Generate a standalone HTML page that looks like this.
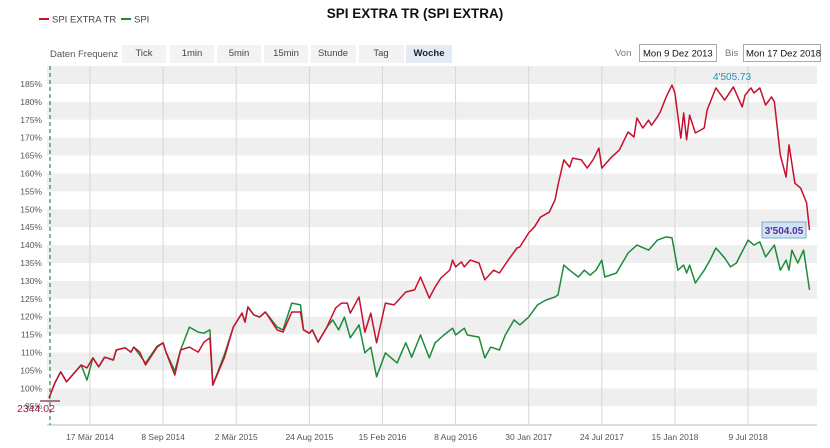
<!DOCTYPE html>
<html><head><meta charset="utf-8">
<style>
body{margin:0;width:830px;height:443px;overflow:hidden;background:#fff;font-family:"Liberation Sans",Arial,sans-serif;}
svg text{font-family:"Liberation Sans",Arial,sans-serif;}
</style></head>
<body>
<svg id="chart" width="830" height="443" xmlns="http://www.w3.org/2000/svg">
  <text x="415" y="18" text-anchor="middle" font-size="13.5" font-weight="bold" fill="#111">SPI EXTRA TR (SPI EXTRA)</text>
  <g>
    <line x1="39" y1="19" x2="49" y2="19" stroke="#c8102e" stroke-width="2"/>
    <text x="52" y="22.5" font-size="9.5" fill="#444">SPI EXTRA TR</text>
    <line x1="121" y1="19" x2="131" y2="19" stroke="#1e8a3a" stroke-width="2"/>
    <text x="134" y="22.5" font-size="9.5" fill="#444">SPI</text>
  </g>
  <g font-size="9.5">
    <text x="50" y="57" fill="#555">Daten Frequenz</text>
    <rect x="122" y="45" width="44" height="18" fill="#f3f3f3"/><text x="144" y="56" text-anchor="middle" fill="#444">Tick</text>
    <rect x="170" y="45" width="44" height="18" fill="#f3f3f3"/><text x="192" y="56" text-anchor="middle" fill="#444">1min</text>
    <rect x="217" y="45" width="44" height="18" fill="#f3f3f3"/><text x="239" y="56" text-anchor="middle" fill="#444">5min</text>
    <rect x="264" y="45" width="44" height="18" fill="#f3f3f3"/><text x="286" y="56" text-anchor="middle" fill="#444">15min</text>
    <rect x="311" y="45" width="45" height="18" fill="#f3f3f3"/><text x="333" y="56" text-anchor="middle" fill="#444">Stunde</text>
    <rect x="359" y="45" width="45" height="18" fill="#f3f3f3"/><text x="381" y="56" text-anchor="middle" fill="#444">Tag</text>
    <rect x="406" y="45" width="46" height="18" fill="#e3ebf5"/><text x="429" y="56" text-anchor="middle" fill="#222" font-weight="bold">Woche</text>
    <text x="615" y="56" fill="#777">Von</text>
    <rect x="639.5" y="44.5" width="77" height="17" fill="#fff" stroke="#aaa"/>
    <text x="643" y="56.5" fill="#111">Mon 9 Dez 2013</text>
    <text x="725" y="56" fill="#777">Bis</text>
    <rect x="743.5" y="44.5" width="77" height="17" fill="#fff" stroke="#aaa"/>
    <text x="746" y="56.5" fill="#111">Mon 17 Dez 2018</text>
  </g>
  <g id="bands"></g>
  <g id="vgrid"></g>
  <g id="yaxis"></g>
  <g id="xaxis"></g>
  <line x1="50" y1="66" x2="50" y2="425" stroke="#2a8a4a" stroke-width="1.2" stroke-dasharray="4,3"/>
  <g id="series"></g>
  <g>
    <line x1="40" y1="401" x2="60" y2="401" stroke="#8a2040" stroke-width="1.2"/>
    <text x="17" y="412" font-size="10.5" fill="#9b2348">2344.02</text>
    <text x="713" y="80" font-size="10" fill="#2a8fb5">4'505.73</text>
    <rect x="762" y="222" width="44" height="16" fill="#cfe3f4" stroke="#7fa9cc"/>
    <text x="784" y="234" text-anchor="middle" font-size="10" font-weight="bold" fill="#5a2ca0">3'504.05</text>
  </g>
</svg>
<script>
const yTicks=[95,100,105,110,115,120,125,130,135,140,145,150,155,160,165,170,175,180,185];
const xTickWeeks=[14,39,64,89,114,139,164,189,214,239];
const xTickLabels=["17 Mär 2014","8 Sep 2014","2 Mär 2015","24 Aug 2015","15 Feb 2016","8 Aug 2016","30 Jan 2017","24 Jul 2017","15 Jan 2018","9 Jul 2018"];
const redWeeks=[0,2,4,6,9,11,13,15,17,19,22,23,26,28,29,31,33,37,39,40,43,45,48,51,53,55,56,60,63,66,67,68,70,72,74,78,80,83,86,87,89,90,92,95,98,100,102,103,106,108,110,112,115,118,122,125,127,130,132,134,137,138,139,141,142,144,147,149,152,154,157,160,161,164,166,168,171,173,174,176,178,179,182,184,186,188,189,192,195,198,200,201,203,205,206,208,209,211,213,214,216,217,218,219,221,224,225,228,231,234,237,238,240,241,243,245,247,248,250,252,253,255,257,259,260];
const redValues=[97.3,101.5,104.6,101.8,104.6,106.5,105.7,108.5,106.0,108.7,107.9,110.7,111.3,110.1,111.5,110.1,106.5,111.5,112.7,110.1,103.7,110.7,111.5,110.1,112.9,114.1,100.9,108.7,117.1,121.0,118.5,122.7,120.5,119.9,121.3,116.3,115.7,121.3,121.3,116.3,115.4,116.3,112.9,117.1,122.4,123.8,123.8,121.0,125.5,115.7,121.0,112.7,123.8,123.3,126.9,127.5,131.1,125.2,128.3,130.8,133.0,135.8,133.9,135.3,133.9,135.8,135.0,130.3,133.0,132.2,135.8,139.2,139.5,143.4,145.1,147.8,149.2,152.6,156.8,163.8,161.8,164.3,163.8,161.5,163.8,167.1,161.5,164.3,166.6,171.6,170.2,175.5,172.7,174.9,173.5,175.8,177.2,181.4,184.7,182.5,169.9,176.9,169.4,176.3,171.3,172.7,177.7,183.9,180.5,184.2,178.6,181.9,183.9,182.5,183.9,179.1,181.4,180.0,165.2,159.0,168.0,157.3,155.9,151.8,144.2];
const greenWeeks=[0,2,4,6,9,11,13,15,17,19,22,23,26,28,29,31,33,37,39,40,43,45,48,51,53,55,56,60,63,66,67,68,70,72,74,78,80,83,86,87,89,90,92,95,97,99,101,103,106,108,110,112,115,119,122,124,127,130,132,135,138,139,142,143,147,149,151,154,156,159,161,164,167,170,173,174,176,178,181,183,185,187,189,190,194,196,198,201,205,208,211,213,215,217,218,219,221,224,226,228,231,233,235,239,241,243,245,248,250,252,253,254,256,258,259,260];
const greenValues=[97.3,101.5,104.6,101.8,104.6,106.5,102.3,108.5,106.0,108.7,107.9,110.7,111.3,110.1,111.5,109.3,107.0,111.8,112.7,110.1,104.8,110.7,117.1,115.7,115.4,116.3,100.9,109.5,117.1,121.0,118.5,122.7,120.5,119.9,121.3,117.1,116.3,123.8,123.3,116.3,115.4,116.3,112.9,117.1,119.1,116.3,119.9,114.1,117.7,109.9,111.5,103.2,109.9,107.1,112.7,108.7,114.9,108.5,112.7,114.9,116.8,114.9,116.8,114.9,114.3,108.5,111.5,110.7,114.9,119.1,117.7,119.9,123.3,124.7,125.5,126.1,134.4,133.0,131.1,133.0,131.6,133.0,135.8,131.1,132.2,135.0,137.8,140.0,138.6,141.4,142.3,142.0,133.0,134.4,132.2,134.4,129.4,133.0,135.8,139.2,136.4,133.9,135.0,141.4,140.0,140.9,136.7,140.0,133.0,135.8,133.0,138.6,135.0,138.6,133.0,127.5];

const NS="http://www.w3.org/2000/svg";
const X0=49,XSTEP=2.925,PL=47,PR=817;
function xPx(w){return X0+w*XSTEP;}
function yPx(v){return 84+(185-v)*3.58;}
function mk(tag,attrs,parent){const e=document.createElementNS(NS,tag);for(const k in attrs)e.setAttribute(k,attrs[k]);parent.appendChild(e);return e;}

const bands=document.getElementById('bands');
for(let top=190;top>90;top-=5){
  const fill=(top%10===0)?'#efefef':'#ffffff';
  const r=mk('rect',{x:PL,y:yPx(top),width:PR-PL,height:yPx(top-5)-yPx(top),fill:fill},bands);
  
  
}
const vg=document.getElementById('vgrid');
xTickWeeks.forEach(w=>{
  const l=mk('line',{x1:xPx(w),x2:xPx(w),y1:66,y2:425,stroke:'#d6d6d6','stroke-width':1},vg);
  
  
});
const ya=document.getElementById('yaxis');
yTicks.forEach(v=>{
  const t=mk('text',{x:42,y:yPx(v)+3,'text-anchor':'end','font-size':8.5,fill:'#555'},ya);
  t.textContent=v+'%';
  
  
});
const xa=document.getElementById('xaxis');
const ax=mk('line',{x1:PL,x2:PR,y1:425,y2:425,stroke:'#d8dde0','stroke-width':2},xa);


xTickWeeks.forEach((w,i)=>{
  const t=mk('text',{x:xPx(w),y:440,'text-anchor':'middle','font-size':8.5,fill:'#555'},xa);
  t.textContent=xTickLabels[i];
  
  
});
const sg=document.getElementById('series');
function line(weeks,vals,color,name){
  const d=weeks.map((w,i)=>(i?'L':'M')+xPx(w).toFixed(1)+','+yPx(vals[i]).toFixed(1)).join('');
  const p=mk('path',{d:d,fill:'none',stroke:color,'stroke-width':1.5,'stroke-linejoin':'round'},sg);
  
  
}
line(greenWeeks,greenValues,'#1e8a3a','spi-line');
line(redWeeks,redValues,'#c8102e','spi-extra-tr-line');
</script>
</body></html>
